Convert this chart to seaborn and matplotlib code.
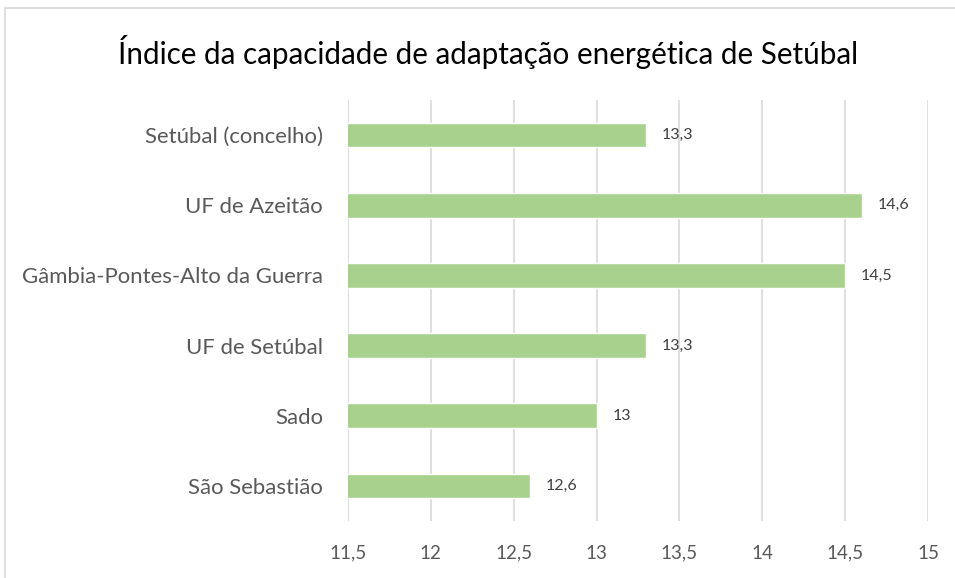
import matplotlib
matplotlib.use("Agg")
import matplotlib.pyplot as plt
import pandas as pd
import seaborn as sns
from matplotlib.patches import Rectangle

categories = [
    "Setúbal (concelho)",
    "UF de Azeitão",
    "Gâmbia-Pontes-Alto da Guerra",
    "UF de Setúbal",
    "Sado",
    "São Sebastião",
]
values = [13.3, 14.6, 14.5, 13.3, 13.0, 12.6]
x_ticks = [11.5, 12, 12.5, 13, 13.5, 14, 14.5, 15]
title = "Índice da capacidade de adaptação energética de Setúbal"


def fmt(v: float) -> str:
    return f"{v:g}".replace(".", ",")


df = pd.DataFrame({"cat": categories, "val": values})

sns.set_theme(style="white")
plt.rcParams["font.family"] = ["Lato", "DejaVu Sans"]

fig = plt.figure(figsize=(9.55, 5.78), dpi=100)
ax = fig.add_axes([0.3644, 0.0986, 0.6073, 0.7284])

# chart frame, cut off at right and bottom like the source
fig.patches.append(Rectangle((5 / 955, -0.1), 1.2, 1 - 8 / 578 + 0.1,
                             transform=fig.transFigure, fill=False,
                             edgecolor="#D9D9D9", linewidth=1.2))

sns.barplot(data=df, y="cat", x="val", color="#A9D18E", width=0.35,
            saturation=1, ax=ax, zorder=3)

ax.set_xlim(11.5, 15)
ax.set_xticks(x_ticks)
ax.set_xticklabels([fmt(t) for t in x_ticks], fontsize=13.5, color="#595959")
ax.tick_params(axis="x", length=0, pad=17)
ax.tick_params(axis="y", length=0, pad=18, labelsize=15.9, labelcolor="#595959")
ax.grid(axis="x", color="#D9D9D9", linewidth=1.2, zorder=0)
ax.set_axisbelow(True)
for s in ax.spines.values():
    s.set_visible(False)
ax.axvline(11.5, color="#D9D9D9", linewidth=1.2, zorder=1)
ax.set_xlabel("")
ax.set_ylabel("")

for i, v in enumerate(values):
    ax.text(v + 0.095, i, fmt(v), va="center", ha="left", fontsize=11.5, color="#404040")

fig.text(488 / 955, 1 - 52 / 578, title, ha="center", va="center", fontsize=21.3, color="#000000")

fig.savefig("out.png", dpi=100)
